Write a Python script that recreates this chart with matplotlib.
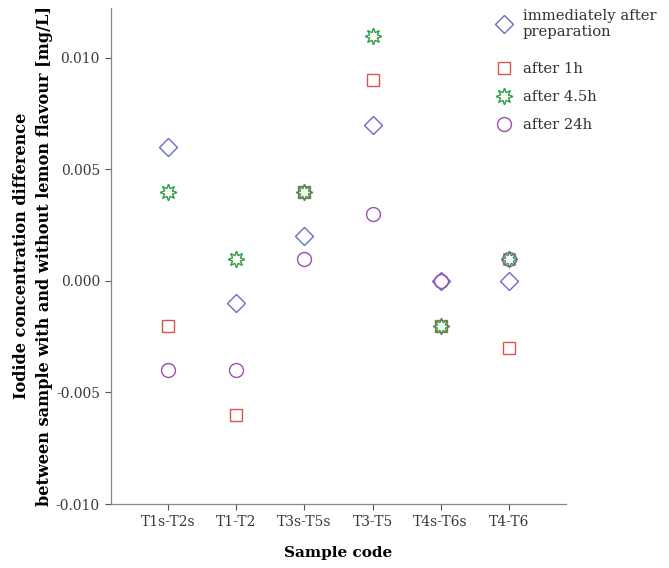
import matplotlib
matplotlib.use("Agg")
import matplotlib.pyplot as plt
from matplotlib.lines import Line2D

categories = ["T1s-T2s", "T1-T2", "T3s-T5s", "T3-T5", "T4s-T6s", "T4-T6"]
immediately = [0.006, -0.001, 0.002, 0.007, 0.000, 0.000]
after_1h = [-0.002, -0.006, 0.004, 0.009, -0.002, -0.003]
after_4_5h = [0.004, 0.001, 0.004, 0.011, -0.002, 0.001]
after_24h = [-0.004, -0.004, 0.001, 0.003, 0.000, 0.001]
yticks = [-0.010, -0.005, 0.000, 0.005, 0.010]
ytick_labels = ["-0.010", "-0.005", "0.000", "0.005", "0.010"]

plt.rcParams['font.family'] = ['DejaVu Serif']

fig = plt.figure(figsize=(6.69, 5.68), dpi=100)
ax = fig.add_axes([111/669, 1-504/568, (566-111)/669, (504-8)/568])

x = list(range(len(categories)))
series = [
    ("immediately after\npreparation", immediately, "D", "#6b6bc4", 9),
    ("after 1h", after_1h, "s", "#d9534f", 9),
    ("after 4.5h", after_4_5h, (8, 1, 0), "#2e9e46", 12),
    ("after 24h", after_24h, "o", "#a04db0", 10),
]
handles = []
for label, vals, m, c, s in series:
    ax.plot(x, vals, linestyle="none", marker=m, markersize=s,
            markerfacecolor="none", markeredgecolor=c, markeredgewidth=1.0)
    handles.append(Line2D([], [], linestyle="none", marker=m, markersize=s,
                          markerfacecolor="none", markeredgecolor=c,
                          markeredgewidth=1.0, label=label))

ax.set_xlim(-0.84, 5.84)
ax.set_ylim(-0.010, 0.01224)
ax.set_yticks(yticks)
ax.set_yticklabels(ytick_labels)
ax.set_xticks(x)
ax.set_xticklabels(categories)
for sp in ["top", "right"]:
    ax.spines[sp].set_visible(False)
for sp in ["left", "bottom"]:
    ax.spines[sp].set_color("#888888")
    ax.spines[sp].set_linewidth(0.9)
ax.tick_params(direction="out", length=4, color="#555555", labelsize=10,
               labelcolor="#3a3a3a", pad=4)

ax.set_xlabel("Sample code", fontsize=11, fontweight="bold", labelpad=12)
ax.set_ylabel("Iodide concentration difference\nbetween sample with and without lemon flavour [mg/L]",
              fontsize=11.6, fontweight="bold", labelpad=2, linespacing=1.45)

leg_kw = dict(frameon=False, fontsize=10.6, handletextpad=0.7,
              handlelength=1.2, labelcolor="#333333", borderaxespad=0)
fig.legend(handles=handles[:1], loc="center left",
           bbox_to_anchor=(489/669, 1 - 24/568), **leg_kw)
fig.legend(handles=handles[1:], loc="center left",
           bbox_to_anchor=(489/669, 1 - 97/568), labelspacing=0.95, **leg_kw)

fig.savefig("out.png", dpi=100)
